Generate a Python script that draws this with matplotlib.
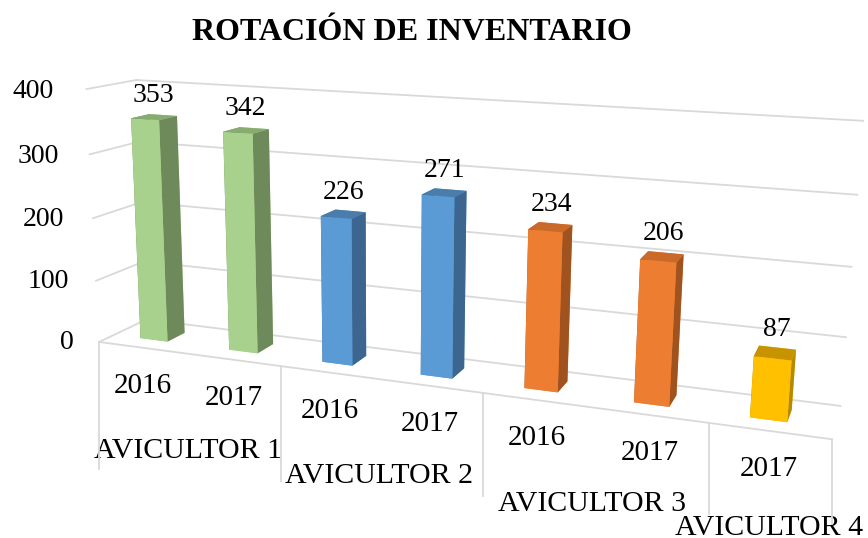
import matplotlib
matplotlib.use("Agg")
import matplotlib.pyplot as plt
from matplotlib.lines import Line2D
from matplotlib.transforms import IdentityTransform
from mpl_toolkits.mplot3d import proj3d

plt.rcParams["font.family"] = ["Liberation Serif", "DejaVu Serif"]

# datos
anios = ["2016", "2017", "2016", "2017", "2016", "2017", "2017"]
valores = [353, 342, 226, 271, 234, 206, 87]
grupo = [0, 0, 1, 1, 2, 2, 3]
categorias = ["AVICULTOR 1", "AVICULTOR 2", "AVICULTOR 3", "AVICULTOR 4"]
ticks_y = [0, 100, 200, 300, 400]

# colores por avicultor: frente, lado, tapa
FRENTE = ["#A9D18E", "#5B9BD5", "#ED7D31", "#FFC000"]
LADO = ["#6E8A5A", "#3C6690", "#A0531F", "#B58800"]
TAPA = ["#88AC70", "#4A7CAC", "#C9692A", "#C79400"]
GRID = "#D9D9D9"

n = len(valores)
S = 1000          # lado del cuadro 3D en px
CX, CY = 448, 241  # donde cae el centro de la caja (px desde arriba-izq)
fig = plt.figure(figsize=(8.68, 5.38), dpi=100)
ax = fig.add_axes([(CX - 0.5135 * S) / 868, (538 - CY - 0.5135 * S) / 538,
                   S / 868, S / 538], projection="3d", computed_zorder=False)
ax.set_proj_type("persp", focal_length=0.252)
ax.view_init(elev=13.1, azim=-69.8, roll=-0.6)
ax.set_xlim(0, n, view_margin=0)
ax.set_ylim(0, 1, view_margin=0)
ax.set_zlim(0, 400, view_margin=0)
ax.set_box_aspect((785, 95, 280), zoom=0.80)
ax.set_axis_off()

# pared del fondo y pared izquierda
for v in ticks_y:
    ax.plot([0, n], [1, 1], [v, v], color=GRID, lw=1.3, zorder=1)
    ax.plot([0, 0], [0, 1], [v, v], color=GRID, lw=1.3, zorder=1)

# borde frontal del piso
ax.plot([0, n], [0, 0], [0, 0], color=GRID, lw=1.3, zorder=1)

# barras
w, y0, d = 0.31, 0.31, 0.38
cx = [i + 0.46 for i in range(n)]
colores = []
for g in grupo:
    # caras: -z, +z, -y, +y, -x, +x
    colores += [FRENTE[g], TAPA[g], FRENTE[g], FRENTE[g], LADO[g], LADO[g]]
ax.bar3d([c - w / 2 for c in cx], [y0] * n, [0] * n, [w] * n, [d] * n,
         valores, color=colores, shade=False, zorder=2)

# textos y separadores: se proyectan a 2D (el eje de categorias es plano)
fig.canvas.draw()
M = ax.get_proj()


def punto(x, y, z):
    xs, ys, _ = proj3d.proj_transform(x, y, z, M)
    return xs, ys


def texto(x, y, z, s, dx=0, dy=0, **kw):
    ax.annotate(s, punto(x, y, z), xytext=(dx, dy), textcoords="offset pixels",
                annotation_clip=False, zorder=5, **kw)


limites = [0] + [i + 1 for i in range(n - 1) if grupo[i] != grupo[i + 1]] + [n]
for b in limites:
    px, py = ax.transData.transform(punto(b, 0, 0))
    largo = 127 - 6 * b
    fig.add_artist(Line2D([px, px], [py, py - largo], color=GRID, lw=1.3,
                          transform=IdentityTransform()))

for v in ticks_y:
    texto(-0.3, 0, v, str(v), dx=-0.015 * v, dy=-4, ha="right", va="center",
          fontsize=20)
for g, nombre in enumerate(categorias):
    xs = [i + 0.5 for i in range(n) if grupo[i] == g]
    texto((min(xs) + max(xs)) / 2, 0, 0, nombre, dy=-97, ha="center",
          va="center", fontsize=21.5)
for i, (a, v) in enumerate(zip(anios, valores)):
    texto(i + 0.5, 0, 0, a, dy=-38, ha="center", va="center", fontsize=21)
    texto(cx[i], y0 + d / 2, v + 33, str(v), ha="center", va="center",
          fontsize=20)

fig.text(412 / 868, 1 - 33 / 538, "ROTACIÓN DE INVENTARIO", ha="center",
         va="center", fontsize=23, fontweight="bold")

fig.savefig("out.png", dpi=100)
